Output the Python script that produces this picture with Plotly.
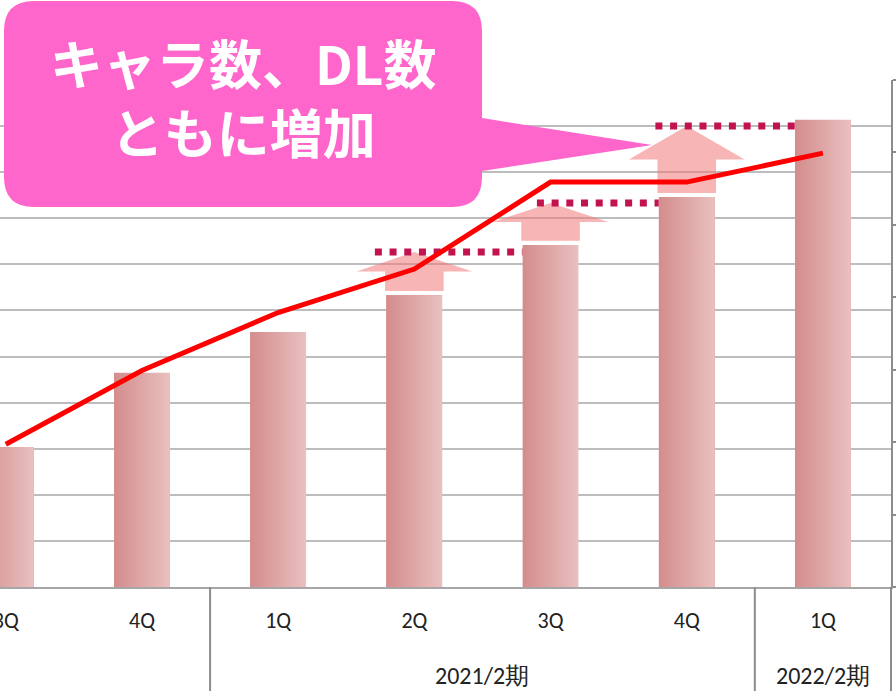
import plotly.graph_objects as go

# ---------------- data ----------------
quarters = ["3Q", "4Q", "1Q", "2Q", "3Q", "4Q", "1Q"]
period_labels = ["2021/2期", "2022/2期"]
period_centers = [3.5, 6.0]          # category position of each period label
period_separators = [1.5, 5.5, 6.5]  # boundaries between periods

bar_values = [30.4, 46.5, 55.3, 63.3, 74.2, 84.6, 101.4]     # left axis (0-110)
line_values = [19.7, 29.9, 37.9, 43.9, 55.9, 55.9, 59.9]     # right axis (0-70)

arrow_quarters = [3, 4, 5]            # quarters with an up arrow
target_values = [72.7, 83.3, 100.0]  # dotted target level per arrow

callout_lines = ["キャラ数、DL数", "ともに増加"]

# ---------------- layout geometry ----------------
W, H = 896, 691
ML, MR, MT, MB = 0, 5, 80, 104
PW, PH = W - ML - MR, H - MT - MB
XMIN, XMAX = -0.0426, 6.5
BAR_W = 0.41


def px_x(px):
    return (px - ML) / PW


def px_y(py):
    return (MT + PH - py) / PH


def idx_to_paper(i):
    return (i - XMIN) / (XMAX - XMIN)


x_idx = list(range(len(quarters)))

fig = go.Figure()

# bars (data trace) + gradient overlay built from the same values
fig.add_trace(go.Bar(x=x_idx, y=bar_values, width=BAR_W,
                     marker=dict(color="#DEA6A6", line=dict(width=0)),
                     hoverinfo="skip", showlegend=False, yaxis="y"))
for i, v in zip(x_idx, bar_values):
    xs = [i - BAR_W / 2, i + BAR_W / 2, i + BAR_W / 2, i - BAR_W / 2, i - BAR_W / 2]
    ys = [0, 0, v, v, 0]
    fig.add_trace(go.Scatter(
        x=xs, y=ys, mode="lines", fill="toself",
        fillgradient=dict(type="horizontal",
                          colorscale=[[0, "#D48C8C"], [1, "#E9C0C0"]]),
        line=dict(width=0, color="rgba(0,0,0,0)"),
        hoverinfo="skip", showlegend=False, yaxis="y"))

# red line on the secondary axis
fig.add_trace(go.Scatter(x=x_idx, y=line_values, mode="lines",
                         line=dict(color="#FF0000", width=5),
                         hoverinfo="skip", showlegend=False, yaxis="y2"))

shapes = []

# arrows (from bar top to target level)
SHAFT_HW, HEAD_HW, GAP = 0.215, 0.425, 0.9
for qi, tgt in zip(arrow_quarters, target_values):
    bottom = bar_values[qi] + GAP
    head = (bottom + tgt) / 2
    path = (f"M {qi - SHAFT_HW},{bottom} L {qi + SHAFT_HW},{bottom} "
            f"L {qi + SHAFT_HW},{head} L {qi + HEAD_HW},{head} "
            f"L {qi},{tgt} L {qi - HEAD_HW},{head} "
            f"L {qi - SHAFT_HW},{head} Z")
    shapes.append(dict(type="path", path=path, xref="x", yref="y",
                       fillcolor="rgba(242,120,120,0.55)",
                       line=dict(width=0), layer="between"))

# dotted target lines
dot_start_offsets = [-0.29, -0.10, -0.23]
for qi, tgt, off in zip(arrow_quarters, target_values, dot_start_offsets):
    shapes.append(dict(type="line", xref="x", yref="y",
                       x0=qi + off, x1=qi + 1 - BAR_W / 2, y0=tgt, y1=tgt,
                       line=dict(color="#C2134F", width=7, dash="7px,7.7px"),
                       layer="between"))

# period separators below the axis
for s in period_separators:
    xp = idx_to_paper(s)
    shapes.append(dict(type="line", xref="paper", yref="paper",
                       x0=xp, x1=xp, y0=0, y1=px_y(H),
                       line=dict(color="#8C8C8C", width=2)))

# callout bubble
L, R, T, B, r = 4, 482, 1, 207, 30
tail_top, tail_bot, tip = 118, 171, (652, 145)


def P(px, py):
    return f"{px_x(px):.5f},{px_y(py):.5f}"


callout = (f"M {P(L + r, T)} L {P(R - r, T)} Q {P(R, T)} {P(R, T + r)} "
           f"L {P(R, tail_top)} L {P(*tip)} L {P(R, tail_bot)} "
           f"L {P(R, B - r)} Q {P(R, B)} {P(R - r, B)} "
           f"L {P(L + r, B)} Q {P(L, B)} {P(L, B - r)} "
           f"L {P(L, T + r)} Q {P(L, T)} {P(L + r, T)} Z")
shapes.append(dict(type="path", path=callout, xref="paper", yref="paper",
                   fillcolor="#FF66CC", line=dict(width=0), layer="above"))

annotations = [dict(text="<br>".join(f"<b>{t}</b>" for t in callout_lines),
                    x=px_x(243), y=px_y(96), xref="paper", yref="paper",
                    xanchor="center", yanchor="middle", showarrow=False,
                    align="center",
                    font=dict(family="Noto Sans CJK JP", size=53, color="white"))]
for lbl, c in zip(period_labels, period_centers):
    annotations.append(dict(text=lbl, x=c, y=px_y(675), xref="x", yref="paper",
                            xanchor="center", yanchor="middle", showarrow=False,
                            font=dict(family="Carlito, Liberation Sans", size=24,
                                      color="#222222")))

fig.update_layout(
    width=W, height=H,
    margin=dict(l=ML, r=MR, t=MT, b=MB, pad=0, autoexpand=False),
    paper_bgcolor="white", plot_bgcolor="white",
    showlegend=False, hovermode=False,
    bargap=0,
    xaxis=dict(range=[XMIN, XMAX], tickmode="array", tickvals=x_idx,
               ticktext=quarters, showgrid=False, zeroline=False,
               showline=True, linecolor="#A6A6A6", linewidth=2, ticks="",
               ticklabelstandoff=13, ticklabeloverflow="allow",
               automargin=False,
               tickfont=dict(family="Carlito, Liberation Sans", size=22,
                             color="#222222")),
    yaxis=dict(range=[0, 110], dtick=10, showgrid=True, gridcolor="#BDBDBD",
               gridwidth=2, zeroline=False, showline=False, automargin=False,
               showticklabels=False, ticks=""),
    yaxis2=dict(range=[0, 70], dtick=10, overlaying="y", side="right",
                showgrid=False, zeroline=False, showline=True, automargin=False,
                linecolor="#8C8C8C", linewidth=2, ticks="outside", ticklen=5,
                tickwidth=2, tickcolor="#8C8C8C", showticklabels=False),
    shapes=shapes, annotations=annotations,
)

fig.write_html("out.html", config={"displayModeBar": False},
               post_script="document.body.style.margin='0';document.body.style.padding='0';")
